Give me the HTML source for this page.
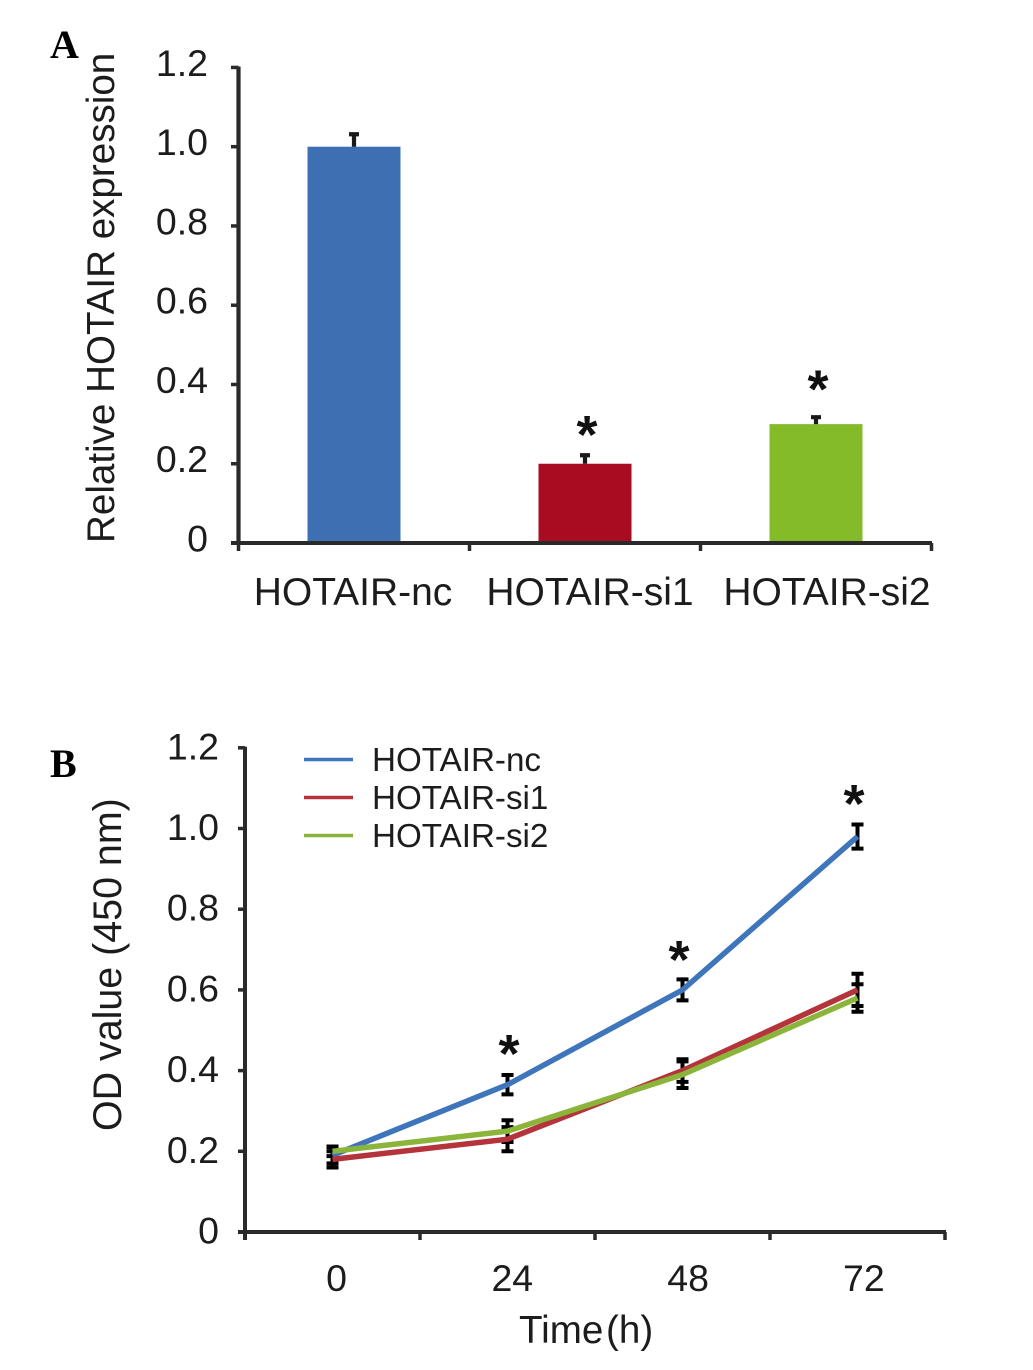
<!DOCTYPE html>
<html lang="en">
<head>
<meta charset="utf-8">
<title>HOTAIR expression and OD value charts</title>
<style>
html,body{margin:0;padding:0;background:#fff;}
svg{display:block;}
text{font-family:"Liberation Sans",sans-serif;fill:#1c1c1c;}
.panel{font-family:"Liberation Serif",serif;font-weight:bold;font-size:40px;fill:#000;}
.star{font-size:54px;font-weight:bold;fill:#111;}
</style>
</head>
<body>
<svg id="figure" xmlns="http://www.w3.org/2000/svg" width="1033" height="1370" viewBox="0 0 1033 1370">
<text class="panel" x="50" y="58">A</text>
<text class="panel" x="50" y="777">B</text>
</svg>
<script>
// Panel A data
const barCategories = ['HOTAIR-nc', 'HOTAIR-si1', 'HOTAIR-si2'];
const barValues = [1.0, 0.2, 0.3];
const barErrors = [0.034, 0.024, 0.02];
const barStarLevels = [null, 0.29, 0.405];
const barColors = ['#3f6fb3', '#a80c20', '#83bc28'];
const barTicks = [0, 0.2, 0.4, 0.6, 0.8, 1.0, 1.2];
const barTickLabels = ['0', '0.2', '0.4', '0.6', '0.8', '1.0', '1.2'];

// Panel B data
const timeLabels = ['0', '24', '48', '72'];
const seriesNames = ['HOTAIR-nc', 'HOTAIR-si1', 'HOTAIR-si2'];
const ncValues = [0.19, 0.365, 0.6, 0.98];
const si1Values = [0.18, 0.23, 0.4, 0.6];
const si2Values = [0.2, 0.25, 0.39, 0.58];
const ncErrors = [0.02, 0.024, 0.026, 0.03];
const si1Errors = [0.02, 0.03, 0.028, 0.04];
const si2Errors = [0.012, 0.027, 0.033, 0.034];
const lineStarLevels = [null, 0.458, 0.691, 1.078];
const lineColors = ['#3f75bb', '#b5343c', '#8ab53a'];
const lineTicks = [0, 0.2, 0.4, 0.6, 0.8, 1.0, 1.2];
const lineTickLabels = ['0', '0.2', '0.4', '0.6', '0.8', '1.0', '1.2'];

const svg = document.getElementById('figure');
const NS = 'http://www.w3.org/2000/svg';
const AXIS = '#2a2a2a';
const STAR_DROP = 25;

function mk(tag, attrs, txt) {
  const el = document.createElementNS(NS, tag);
  for (const k in attrs) el.setAttribute(k, attrs[k]);
  if (txt !== undefined) el.textContent = txt;
  svg.appendChild(el);
  return el;
}

// Axis functions, panel A
const ay = v => 543 - v * 396.3;
const aBand = i => 238.5 + 231 * i;
const ax = i => aBand(i) + 115.5;

// Axis functions, panel B
const by = v => 1232 - v * 403.5;
const bBand = i => 245 + 175 * i;
const bx = i => bBand(i) + 87.5;

// ---------- Panel A ----------
barValues.forEach((v, i) => {
  const bar = mk('rect', {x: ax(i) - 46.5, y: ay(v), width: 93, height: ay(0) - ay(v), fill: barColors[i]});
  
  

  const err = mk('path', {
    d: 'M' + ax(i) + ' ' + ay(v) + 'V' + ay(v + barErrors[i]) + 'M' + (ax(i) - 5) + ' ' + (ay(v + barErrors[i]) + 1) + 'H' + (ax(i) + 5),
    stroke: '#1a1a1a', 'stroke-width': 4.2, fill: 'none'
  });
  
  

  const lab = mk('text', {x: ax(i) + i * 6 - 1, y: 605, 'text-anchor': 'middle', 'font-size': 39}, barCategories[i]);
  
  

  const tick = mk('line', {x1: aBand(i), x2: aBand(i), y1: ay(0), y2: ay(0) + 8, stroke: AXIS, 'stroke-width': 3.5});
  
  

  if (barStarLevels[i] !== null) {
    const star = mk('text', {class: 'star', x: ax(i) + 2, y: ay(barStarLevels[i]) + STAR_DROP, 'text-anchor': 'middle'}, '*');
    
    
  }
});
const aEndTick = mk('line', {x1: aBand(3), x2: aBand(3), y1: ay(0), y2: ay(0) + 8, stroke: AXIS, 'stroke-width': 3.5});



barTicks.forEach((t, i) => {
  const tick = mk('line', {x1: 231, x2: 238.5, y1: ay(t), y2: ay(t), stroke: AXIS, 'stroke-width': 3.5});
  
  
  const lab = mk('text', {x: 208, y: ay(t) + 8.5, 'text-anchor': 'end', 'font-size': 37.5}, barTickLabels[i]);
  
  
});

const aYAxis = mk('line', {x1: 238.5, x2: 238.5, y1: ay(1.2) - 1, y2: ay(0) + 1.5, stroke: AXIS, 'stroke-width': 4.2});


const aXAxis = mk('line', {x1: 231, x2: 932, y1: ay(0), y2: ay(0), stroke: AXIS, 'stroke-width': 4});


const aTitle = mk('text', {transform: 'translate(114,543) rotate(-90)', x: 0, y: 0, 'font-size': 38.6}, 'Relative HOTAIR expression');



// ---------- Panel B ----------
const bSeries = [ncValues, si1Values, si2Values];
const bErrors = [ncErrors, si1Errors, si2Errors];

lineTicks.forEach((t, i) => {
  const tick = mk('line', {x1: 238, x2: 245, y1: by(t), y2: by(t), stroke: AXIS, 'stroke-width': 3.5});
  
  
  const lab = mk('text', {x: 219, y: by(t) + 11.5, 'text-anchor': 'end', 'font-size': 37.5}, lineTickLabels[i]);
  
  
});

timeLabels.forEach((t, i) => {
  const tick = mk('line', {x1: bBand(i), x2: bBand(i), y1: by(0), y2: by(0) + 8, stroke: AXIS, 'stroke-width': 3.5});
  
  
  const lab = mk('text', {x: bx(i) + 4 + i * 0.8, y: 1291, 'text-anchor': 'middle', 'font-size': 37.5}, t);
  
  
});
const bEndTick = mk('line', {x1: bBand(4), x2: bBand(4), y1: by(0), y2: by(0) + 8, stroke: AXIS, 'stroke-width': 3.5});



const bYAxis = mk('line', {x1: 245, x2: 245, y1: by(1.2) - 1, y2: by(0) + 8, stroke: AXIS, 'stroke-width': 4});


const bXAxis = mk('line', {x1: 238, x2: 946, y1: by(0), y2: by(0), stroke: AXIS, 'stroke-width': 4});



bSeries.forEach((vals, s) => {
  vals.forEach((v, i) => {
    const e = bErrors[s][i];
    const top = by(v + e), bot = by(v - e), x = bx(i);
    const err = mk('path', {
      d: 'M' + x + ' ' + top + 'V' + bot + 'M' + (x - 6) + ' ' + top + 'H' + (x + 6) + 'M' + (x - 6) + ' ' + bot + 'H' + (x + 6),
      stroke: '#000', 'stroke-width': 4, fill: 'none'
    });
    
    
  });
});

bSeries.forEach((vals, s) => {
  const pts = vals.map((v, i) => bx(i) + ',' + by(v)).join(' ');
  const line = mk('polyline', {points: pts, fill: 'none', stroke: lineColors[s], 'stroke-width': 5.5, 'stroke-linejoin': 'round'});
  
  
});

lineStarLevels.forEach((lv, i) => {
  if (lv === null) return;
  const star = mk('text', {class: 'star', x: bx(i) + (i === 1 ? 1.5 : -3.5), y: by(lv) + STAR_DROP, 'text-anchor': 'middle'}, '*');
  
  
});

seriesNames.forEach((n, s) => {
  const ly = 759.5 + 38 * s;
  const key = mk('line', {x1: 304, x2: 353, y1: ly, y2: ly, stroke: lineColors[s], 'stroke-width': 3.6});
  
  
  const lab = mk('text', {x: 372, y: ly + 11.5, 'font-size': 33.2}, n);
  
  
});

const bTitle = mk('text', {transform: 'translate(121,1131) rotate(-90)', x: 0, y: 0, 'font-size': 39.4}, 'OD value (450 nm)');


const bXTitle = mk('text', {x: 519, y: 1343, 'font-size': 38.6, 'word-spacing': '-8px'}, 'Time (h)');


</script>
</body>
</html>
